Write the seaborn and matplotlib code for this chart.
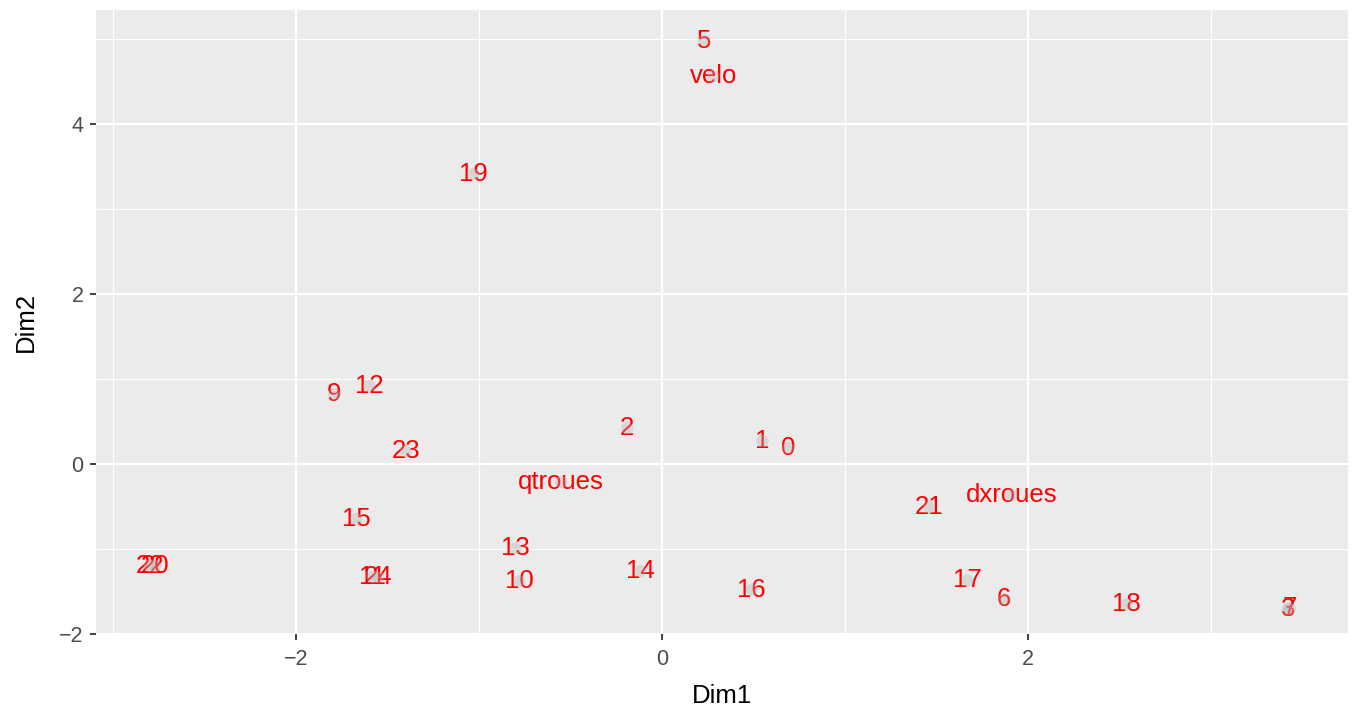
import matplotlib
matplotlib.use("Agg")
import matplotlib.pyplot as plt
import seaborn as sns
import pandas as pd
from matplotlib.ticker import MultipleLocator

# Individuals and supplementary variables projected on the first two dimensions
labels = ["5", "velo", "19", "12", "9", "23", "2", "1", "0", "qtroues",
          "21", "dxroues", "15", "13", "22", "20", "11", "24", "14", "10",
          "16", "17", "6", "18", "3", "7"]
dim1 = [0.23, 0.28, -1.03, -1.60, -1.79, -1.40, -0.19, 0.55, 0.69, -0.55,
        1.46, 1.91, -1.67, -0.80, -2.80, -2.77, -1.58, -1.55, -0.12, -0.78,
        0.49, 1.67, 1.87, 2.54, 3.42, 3.43]
dim2 = [4.98, 4.56, 3.41, 0.92, 0.82, 0.15, 0.42, 0.27, 0.19, -0.21,
        -0.51, -0.37, -0.65, -0.99, -1.20, -1.20, -1.33, -1.33, -1.26, -1.38,
        -1.48, -1.37, -1.59, -1.65, -1.71, -1.70]

df = pd.DataFrame({"Dim1": dim1, "Dim2": dim2, "label": labels})

sns.set_theme(style="darkgrid", rc={
    "axes.facecolor": "#EBEBEB",
    "grid.color": "white",
    "axes.edgecolor": "#EBEBEB",
})
plt.rcParams["font.family"] = ["Liberation Sans", "DejaVu Sans"]

fig = plt.figure(figsize=(13.55, 7.11), dpi=100)
ax = fig.add_axes([0.0708, 0.1083, 0.924, 0.8777])

for _, r in df.iterrows():
    ax.text(r.Dim1, r.Dim2, r.label, color="#FF0000", fontsize=18.5,
            ha="center", va="center", zorder=3)

sns.scatterplot(data=df, x="Dim1", y="Dim2", ax=ax, color="#B0B0B0",
                alpha=0.35, s=80, edgecolor="none", zorder=4)

ax.set_xlim(-3.093, 3.749)
ax.set_ylim(-2.0, 5.341)
ax.xaxis.set_minor_locator(MultipleLocator(1))
ax.yaxis.set_minor_locator(MultipleLocator(1))
ax.xaxis.set_minor_formatter(plt.NullFormatter())
ax.yaxis.set_minor_formatter(plt.NullFormatter())
ax.grid(which="major", color="white", linewidth=1.6)
ax.grid(which="minor", color="white", linewidth=0.8)
ax.set_axisbelow(True)
for s in ax.spines.values():
    s.set_visible(False)

ax.tick_params(axis="both", which="major", length=4, width=1.3, color="#333333",
               labelsize=15.5, labelcolor="#4D4D4D", direction="out",
               bottom=True, left=True)
ax.tick_params(axis="x", which="major", pad=7)
ax.tick_params(axis="y", which="major", pad=5)
ax.tick_params(axis="both", which="minor", length=0)
ax.set_xticks([-2, 0, 2])
ax.set_xticklabels(["\u22122", "0", "2"])
ax.set_yticks([-2, 0, 2, 4])
ax.set_yticklabels(["\u22122", "0", "2", "4"])
ax.set_xlabel("Dim1", fontsize=18.5, color="black", labelpad=10)
ax.set_ylabel("Dim2", fontsize=18.5, color="black", labelpad=15)

fig.savefig("out.png", dpi=100)
